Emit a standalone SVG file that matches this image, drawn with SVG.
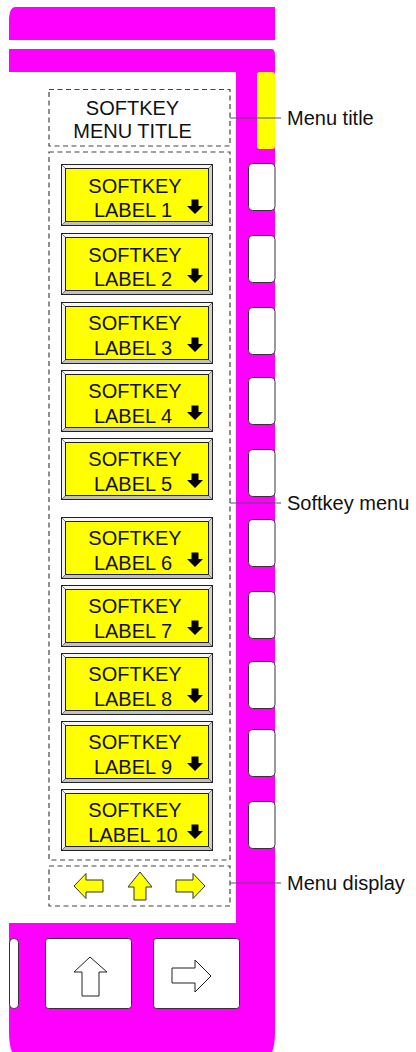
<svg xmlns="http://www.w3.org/2000/svg" xmlns:xlink="http://www.w3.org/1999/xlink" width="416" height="1052" viewBox="0 0 416 1052">
<style>
  text { font-family: "Liberation Sans", Arial, sans-serif; font-size: 20px; fill: #111; }
  .mag { fill: #ff00ff; }
  .dash { fill: none; stroke: #444; stroke-width: 1.2; stroke-dasharray: 5 3.5; }
  .key { fill: #fff; stroke: #333; stroke-width: 1; }
  .lead { stroke: #555; stroke-width: 1.2; fill: none; }
  .yarrow { fill: #ffff00; stroke: #333; stroke-width: 1; }
  .warrow { fill: #fff; stroke: #222; stroke-width: 1; }
  .mid { text-anchor: middle; }
</style>
<defs>
  <g id="btnframe">
    <rect x="0.5" y="0.5" width="151" height="61" fill="#d8d8d8" stroke="#222" stroke-width="1"/>
    <polygon points="1,1 151,1 147,5 5,5" fill="#f6f6f6"/>
    <polygon points="1,1 5,5 5,57 1,61" fill="#f0f0f0"/>
    <polygon points="151,1 151,61 147,57 147,5" fill="#d0d0d0"/>
    <polygon points="1,61 5,57 147,57 151,61" fill="#c0c0c0"/>
    <path d="M1,1 L5,5 M151,1 L147,5 M1,61 L5,57 M151,61 L147,57" stroke="#555" stroke-width="0.7"/>
    <rect x="4.5" y="4.5" width="143" height="53" fill="#ffff00" stroke="#222" stroke-width="1"/>
    <polygon points="130.5,35.5 137.5,35.5 137.5,42 142,42 134,50 126,42 130.5,42" fill="#000"/>
  </g>
</defs>

<g id="frame">
  <path class="mag" d="M9,40 V18 Q10,7 15,7 H275 V40 Z"/>
  <path class="mag" d="M9,49 H272 Q275,49 275,56 V1032 Q275,1045 272,1052 H12 Q9,1045 9,1032 V923 H236 V72 H9 Z"/>
  <rect x="257" y="72" width="18" height="77" rx="3" fill="#ffff00"/>
</g>

<g id="sidekeys">
  <rect class="key" x="248.5" y="163.5" width="26.5" height="47" rx="4"/>
  <rect class="key" x="248.5" y="235.5" width="26.5" height="47" rx="4"/>
  <rect class="key" x="248.5" y="307.5" width="26.5" height="47" rx="4"/>
  <rect class="key" x="248.5" y="377.5" width="26.5" height="47" rx="4"/>
  <rect class="key" x="248.5" y="449.5" width="26.5" height="47" rx="4"/>
  <rect class="key" x="248.5" y="519.5" width="26.5" height="47" rx="4"/>
  <rect class="key" x="248.5" y="591.5" width="26.5" height="47" rx="4"/>
  <rect class="key" x="248.5" y="661.5" width="26.5" height="47" rx="4"/>
  <rect class="key" x="248.5" y="729.5" width="26.5" height="47" rx="4"/>
  <rect class="key" x="248.5" y="801.5" width="26.5" height="47" rx="4"/>
</g>

<g id="menu-title">
  <rect class="dash" x="49" y="89.5" width="181" height="56.5"/>
  <text class="mid" x="132.5" y="115">SOFTKEY</text>
  <text class="mid" x="132.5" y="138">MENU TITLE</text>
</g>

<g id="softkey-menu">
  <rect class="dash" x="49" y="152" width="181" height="708"/>
</g>

<g id="softkey1" transform="translate(61,164)">
  <use xlink:href="#btnframe"/>
  <text class="mid" x="74" y="29">SOFTKEY</text>
  <text class="mid" x="72" y="53">LABEL 1</text>
</g>
<g id="softkey2" transform="translate(61,233)">
  <use xlink:href="#btnframe"/>
  <text class="mid" x="74" y="28.5">SOFTKEY</text>
  <text class="mid" x="72" y="53">LABEL 2</text>
</g>
<g id="softkey3" transform="translate(61,302)">
  <use xlink:href="#btnframe"/>
  <text class="mid" x="74" y="27.5">SOFTKEY</text>
  <text class="mid" x="72" y="52.5">LABEL 3</text>
</g>
<g id="softkey4" transform="translate(61,370)">
  <use xlink:href="#btnframe"/>
  <text class="mid" x="74" y="28">SOFTKEY</text>
  <text class="mid" x="72" y="52.5">LABEL 4</text>
</g>
<g id="softkey5" transform="translate(61,438)">
  <use xlink:href="#btnframe"/>
  <text class="mid" x="74" y="28">SOFTKEY</text>
  <text class="mid" x="72" y="52.5">LABEL 5</text>
</g>
<g id="softkey6" transform="translate(61,517)">
  <use xlink:href="#btnframe"/>
  <text class="mid" x="74" y="28">SOFTKEY</text>
  <text class="mid" x="72" y="52.5">LABEL 6</text>
</g>
<g id="softkey7" transform="translate(61,585)">
  <use xlink:href="#btnframe"/>
  <text class="mid" x="74" y="28">SOFTKEY</text>
  <text class="mid" x="72" y="52.5">LABEL 7</text>
</g>
<g id="softkey8" transform="translate(61,653)">
  <use xlink:href="#btnframe"/>
  <text class="mid" x="74" y="28">SOFTKEY</text>
  <text class="mid" x="72" y="52.5">LABEL 8</text>
</g>
<g id="softkey9" transform="translate(61,721)">
  <use xlink:href="#btnframe"/>
  <text class="mid" x="74" y="28">SOFTKEY</text>
  <text class="mid" x="72" y="52.5">LABEL 9</text>
</g>
<g id="softkey10" transform="translate(61,789)">
  <use xlink:href="#btnframe"/>
  <text class="mid" x="74" y="28">SOFTKEY</text>
  <text class="mid" x="72" y="52.5">LABEL 10</text>
</g>

<g id="menu-display">
  <rect class="dash" x="49" y="866" width="181" height="40"/>
  <polygon class="yarrow" points="74,886 86,873.5 86,880 103,880 103,892 86,892 86,898.5"/>
  <polygon class="yarrow" points="140,872 152,887 146,887 146,900 134,900 134,887 128,887"/>
  <polygon class="yarrow" points="176,880 193,880 193,873.5 205,886 193,898.5 193,892 176,892"/>
</g>

<g id="bottom-keys">
  <rect class="key" x="9.5" y="938.5" width="9" height="70" rx="4"/>
  <rect class="key" x="45.5" y="938.5" width="86" height="70" rx="3"/>
  <polygon class="warrow" points="90,957 107,972 99,972 99,996 82,996 82,972 74,972"/>
  <rect class="key" x="153.5" y="938.5" width="86" height="70" rx="3"/>
  <polygon class="warrow" points="172,968 195,968 195,960 211,976 195,992 195,983 172,983"/>
</g>

<g id="connectors">
  <line class="lead" x1="230" y1="118" x2="281" y2="118"/>
  <line class="lead" x1="230" y1="503" x2="281" y2="503"/>
  <line class="lead" x1="230" y1="883" x2="281" y2="883"/>
</g>

<g id="label-menu-title"><text x="287" y="125">Menu title</text></g>
<g id="label-softkey-menu"><text x="287" y="510">Softkey menu</text></g>
<g id="label-menu-display"><text x="287" y="890">Menu display</text></g>
</svg>
